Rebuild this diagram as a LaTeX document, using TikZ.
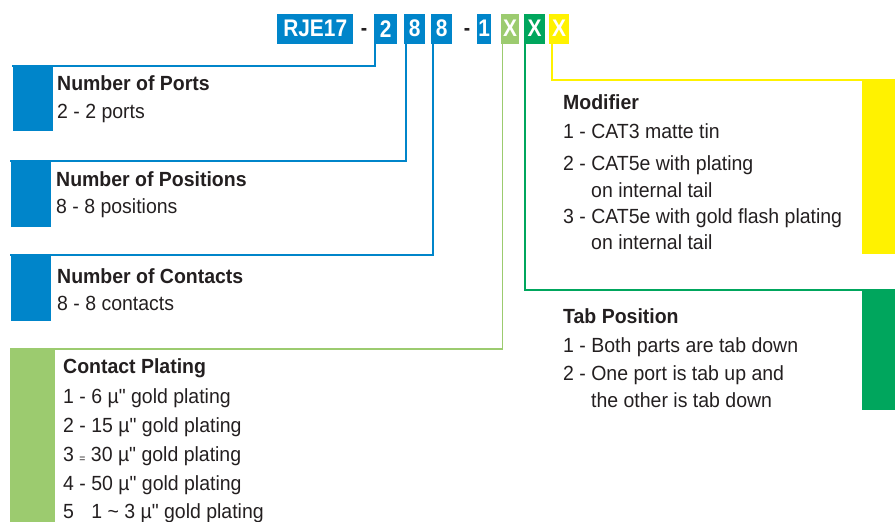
\documentclass[tikz,border=0pt]{standalone}
\usepackage{fontspec}
\setmainfont{Liberation Sans}[FakeStretch=0.95]
\newfontfamily\codefont{Liberation Sans}[FakeStretch=0.87]
\newfontfamily\quotefont{Liberation Sans}[FakeStretch=0.95, Ligatures=NoCommon]
\definecolor{cblue}{HTML}{0085CA}
\definecolor{clgreen}{HTML}{9CCB6F}
\definecolor{cgreen}{HTML}{00A65D}
\definecolor{cyellow}{HTML}{FFF200}
\definecolor{ctext}{HTML}{231F20}
\newcommand{\dq}{{\quotefont\symbol{34}}}
\begin{document}
\begin{tikzpicture}[x=1pt,y=-1pt,
  codebox/.style={inner sep=0pt, minimum height=30pt, anchor=north west, text=white,
    font=\codefont\bfseries\fontsize{24}{24}\selectfont},
  dashtxt/.style={inner sep=0pt, anchor=base, text=ctext, font=\codefont\bfseries\fontsize{22}{22}\selectfont},
  tab/.style={draw=none, inner sep=0pt, anchor=north west},
  head/.style={inner sep=0pt, anchor=base west, text=ctext, font=\bfseries\fontsize{20.5}{24}\selectfont},
  item/.style={inner sep=0pt, anchor=base west, text=ctext, font=\fontsize{20.5}{24}\selectfont},
  blueline/.style={draw=cblue, line width=2.2pt},
  lgline/.style={draw=clgreen, line width=1.6pt},
  gline/.style={draw=cgreen, line width=1.8pt},
  yline/.style={draw=cyellow, line width=2pt}
]
\useasboundingbox (0,0) rectangle (895,522);
\clip (0,0) rectangle (895,522);

% code boxes
\node[codebox, fill=cblue, minimum width=76pt] (rje) at (277,13.5) {RJE17};
\node[dashtxt] (d1) at (364,35) {-};
\node[codebox, fill=cblue, minimum width=23pt] (p2) at (374,13.5) {2};
\node[codebox, fill=cblue, minimum width=21pt] (p8a) at (404,13.5) {8};
\node[codebox, fill=cblue, minimum width=21pt] (p8b) at (431,13.5) {8};
\node[dashtxt] (d2) at (467,35) {-};
\node[codebox, fill=cblue, minimum width=14pt] (p1) at (477,13.5) {1};
\node[codebox, fill=clgreen, minimum width=18pt] (xa) at (501,13.5) {X};
\node[codebox, fill=cgreen, minimum width=21pt] (xb) at (524,13.5) {X};
\node[codebox, fill=cyellow, minimum width=20pt] (xc) at (549,13.5) {X};

% tabs
\node[tab, fill=cblue, minimum width=40pt, minimum height=65pt] (tA) at (13,66) {};
\node[tab, fill=cblue, minimum width=40pt, minimum height=66pt] (tB) at (11,161) {};
\node[tab, fill=cblue, minimum width=40pt, minimum height=66pt] (tC) at (11,255) {};
\node[tab, fill=clgreen, minimum width=45pt, minimum height=180pt] (tD) at (10,349) {};
\node[tab, fill=cyellow, minimum width=33pt, minimum height=174pt] (tM) at (862,80) {};
\node[tab, fill=cgreen, minimum width=33pt, minimum height=120pt] (tT) at (862,290) {};

% connectors
\draw[blueline] ([xshift=1pt]p2.south west) |- ([xshift=-1pt]tA.north west);
\draw[blueline] ([xshift=2pt]p8a.south west) |- ([xshift=-1pt]tB.north west);
\draw[blueline] ([xshift=2pt]p8b.south west) |- ([xshift=-1pt]tC.north west);
\draw[lgline] ([xshift=1.5pt]xa.south west) |- (tD.north west);
\draw[gline] ([xshift=1pt]xb.south west) |- (tT.north east);
\draw[yline] ([xshift=3pt]xc.south west) |- (tM.north east);

% texts left
\node[head] (hA) at (57,90) {Number of Ports};
\node[item] (iA1) at (57,118) {2 - 2 ports};
\node[head] (hB) at (56,186) {Number of Positions};
\node[item] (iB1) at (56,213) {8 - 8 positions};
\node[head] (hC) at (57,283) {Number of Contacts};
\node[item] (iC1) at (57,310) {8 - 8 contacts};
\node[head] (hD) at (63,373) {Contact Plating};
\node[item] (iD1) at (63,403) {1 - 6 µ\dq{} gold plating};
\node[item] (iD2) at (63,432) {2 - 15 µ\dq{} gold plating};
\node[item] (iD3) at (63,461) {3 \raisebox{-1pt}{\fontsize{11}{11}\selectfont =} 30 µ\dq{} gold plating};
\node[item] (iD4) at (63,490) {4 - 50 µ\dq{} gold plating};
\node[item] (iD5) at (63,518) {5\phantom{ -} 1 \textasciitilde{} 3 µ\dq{} gold plating};

% texts right
\node[head] (hM) at (563,109) {Modifier};
\node[item] (iM1) at (563,138) {1 - CAT3 matte tin};
\node[item] (iM2) at (563,170) {2 - CAT5e with plating};
\node[item] (iM2b) at (591,197) {on internal tail};
\node[item] (iM3) at (563,223) {3 - CAT5e with gold flash plating};
\node[item] (iM3b) at (591,249) {on internal tail};
\node[head] (hT) at (563,323) {Tab Position};
\node[item] (iT1) at (563,352) {1 - Both parts are tab down};
\node[item] (iT2) at (563,380) {2 - One port is tab up and};
\node[item] (iT2b) at (591,407) {the other is tab down};
\end{tikzpicture}
\end{document}
